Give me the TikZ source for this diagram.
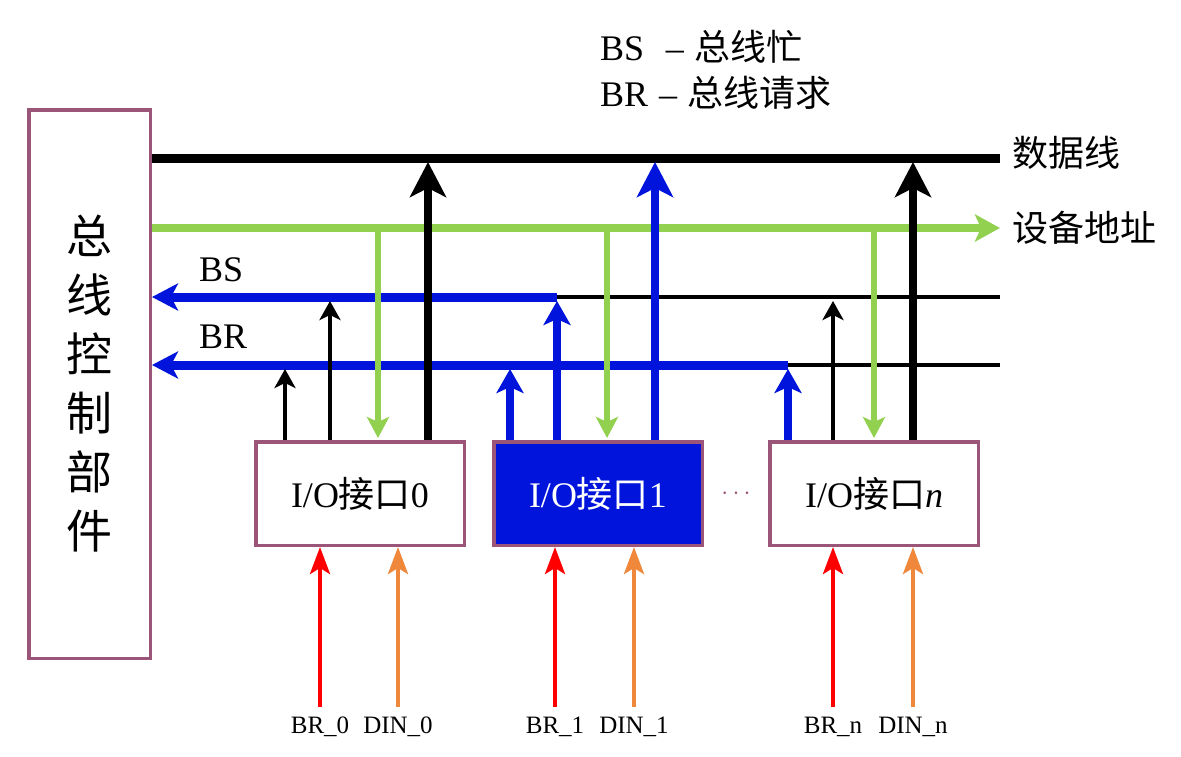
\documentclass[tikz,border=0pt]{standalone}
\usepackage{fontspec}
\setmainfont{Liberation Serif}
\newfontfamily\cjk{Noto Sans CJK SC}
\usetikzlibrary{arrows.meta,positioning}

\definecolor{busblue}{RGB}{0,20,220}
\definecolor{busgreen}{RGB}{146,208,80}
\definecolor{sigorange}{RGB}{240,136,60}
\definecolor{boxpurple}{RGB}{155,85,120}

\tikzset{
  ctrlbox/.style={draw=boxpurple,line width=3.5pt,minimum width=121.5pt,minimum height=548.5pt,
    inner sep=0pt,align=center,font=\cjk\fontsize{46}{59}\selectfont},
  iobox/.style={draw=boxpurple,line width=3.5pt,minimum width=208.5pt,minimum height=103.5pt,
    inner sep=0pt,font=\fontsize{36}{40}\selectfont},
  datawire/.style={line width=9pt,black},
  addrwire/.style={line width=8pt,busgreen,-{Stealth[length=25pt,width=27pt,inset=6pt]}},
  bluewire/.style={line width=9pt,busblue,-{Stealth[length=26pt,width=27pt,inset=7pt]}},
  thinwire/.style={line width=3.5pt,black},
  thinup/.style={line width=3.5pt,black,shorten >=4pt,-{Stealth[length=19pt,width=21pt,inset=5pt]}},
  dataup/.style={line width=8pt,black,shorten >=4pt,-{Stealth[length=35pt,width=36pt,inset=9pt]}},
  blueup/.style={line width=8pt,busblue,shorten >=4pt,-{Stealth[length=24pt,width=27pt,inset=6pt]}},
  addrdown/.style={line width=6pt,busgreen,shorten >=2pt,-{Stealth[length=21pt,width=22pt,inset=5pt]}},
  sigup/.style={line width=4pt,shorten <=9pt,-{Stealth[length=27pt,width=20pt,inset=6pt]}},
  siglabel/.style={inner sep=1pt,font=\fontsize{25}{28}\selectfont},
  buslabel/.style={anchor=west,inner sep=0pt,font=\cjk\fontsize{36}{40}\selectfont},
  notelabel/.style={anchor=west,inner sep=0pt,font=\fontsize{36}{40}\selectfont},
}

\begin{document}
\begin{tikzpicture}[x=1pt,y=-1pt]
\useasboundingbox (0,0) rectangle (1181,756);

% control unit and the interfaces
\node[ctrlbox] (ctrl) at (89.5,384) {总\\线\\控\\制\\部\\件};
\node[iobox] (io0) at (360,493.5) {I/O{\cjk 接口}0};
\node[iobox,fill=busblue,text=white,right=26pt of io0] (io1) {I/O{\cjk 接口}1};
\node[iobox,right=64pt of io1] (ion) {I/O{\cjk 接口}\textit{n}};
\path (io1) -- node[text=boxpurple,font=\fontsize{26}{26}\selectfont] (dots) {$\cdots$} (ion);

% bus ends
\coordinate (dataE) at (1000,158);
\coordinate (addrE) at (1000,228);
\coordinate (bsE) at (1000,297);
\coordinate (brE) at (1000,365);

% leads on top of the interfaces
\coordinate (l0a) at ([xshift=31pt]io0.north west);
\coordinate (l0b) at ([xshift=76pt]io0.north west);
\coordinate (l0c) at ([xshift=124pt]io0.north west);
\coordinate (l0d) at ([xshift=174pt]io0.north west);
\coordinate (l1a) at ([xshift=18pt]io1.north west);
\coordinate (l1b) at ([xshift=65pt]io1.north west);
\coordinate (l1c) at ([xshift=115pt]io1.north west);
\coordinate (l1d) at ([xshift=163pt]io1.north west);
\coordinate (lna) at ([xshift=20pt]ion.north west);
\coordinate (lnb) at ([xshift=65pt]ion.north west);
\coordinate (lnc) at ([xshift=106pt]ion.north west);
\coordinate (lnd) at ([xshift=145pt]ion.north west);

% buses
\draw[datawire] (ctrl.east |- dataE) -- (dataE);
\draw[addrwire] (ctrl.east |- addrE) -- (addrE);
\draw[thinwire] (l1b |- bsE) -- (bsE);
\draw[bluewire] (l1b |- bsE) -- (ctrl.east |- bsE);
\draw[thinwire] (lna |- brE) -- (brE);
\draw[bluewire] (lna |- brE) -- (ctrl.east |- brE);

% interface 0
\draw[thinup] (l0a) -- (l0a |- brE);
\draw[thinup] (l0b) -- (l0b |- bsE);
\draw[addrdown] (l0c |- addrE) -- (l0c);
\draw[dataup] (l0d) -- (l0d |- dataE);
% interface 1
\draw[blueup] (l1a) -- (l1a |- brE);
\draw[blueup] (l1b) -- (l1b |- bsE);
\draw[addrdown] (l1c |- addrE) -- (l1c);
\draw[dataup,busblue] (l1d) -- (l1d |- dataE);
% interface n
\draw[blueup] (lna) -- (lna |- brE);
\draw[thinup] (lnb) -- (lnb |- bsE);
\draw[addrdown] (lnc |- addrE) -- (lnc);
\draw[dataup] (lnd) -- (lnd |- dataE);

% labels
\node[buslabel,yshift=5pt] (datalbl) at ([xshift=12pt]dataE) {数据线};
\node[buslabel] (addrlbl) at ([xshift=12pt]addrE) {设备地址};
\node[notelabel] (bslbl) at (199,270) {BS};
\node[notelabel] (brlbl) at (199,337) {BR};
\node[notelabel] (bsnote) at (600,47) {BS\hspace{0.6em}–\hspace{0.3em}{\cjk 总线忙}};
\node[notelabel] (brnote) at (600,93) {BR\hspace{0.3em}–\hspace{0.3em}{\cjk 总线请求}};

% request and data inputs
\node[siglabel] (br0) at ([xshift=66pt,yshift=-180pt]io0.south west) {BR\_0};
\node[siglabel] (din0) at ([xshift=144pt,yshift=-180pt]io0.south west) {DIN\_0};
\node[siglabel] (br1) at ([xshift=63pt,yshift=-180pt]io1.south west) {BR\_1};
\node[siglabel] (din1) at ([xshift=142pt,yshift=-180pt]io1.south west) {DIN\_1};
\node[siglabel] (brn) at ([xshift=65pt,yshift=-180pt]ion.south west) {BR\_n};
\node[siglabel] (dinn) at ([xshift=145pt,yshift=-180pt]ion.south west) {DIN\_n};
\draw[sigup,red] (br0) -- (br0 |- io0.south);
\draw[sigup,sigorange] (din0) -- (din0 |- io0.south);
\draw[sigup,red] (br1) -- (br1 |- io1.south);
\draw[sigup,sigorange] (din1) -- (din1 |- io1.south);
\draw[sigup,red] (brn) -- (brn |- ion.south);
\draw[sigup,sigorange] (dinn) -- (dinn |- ion.south);

\end{tikzpicture}
\end{document}
